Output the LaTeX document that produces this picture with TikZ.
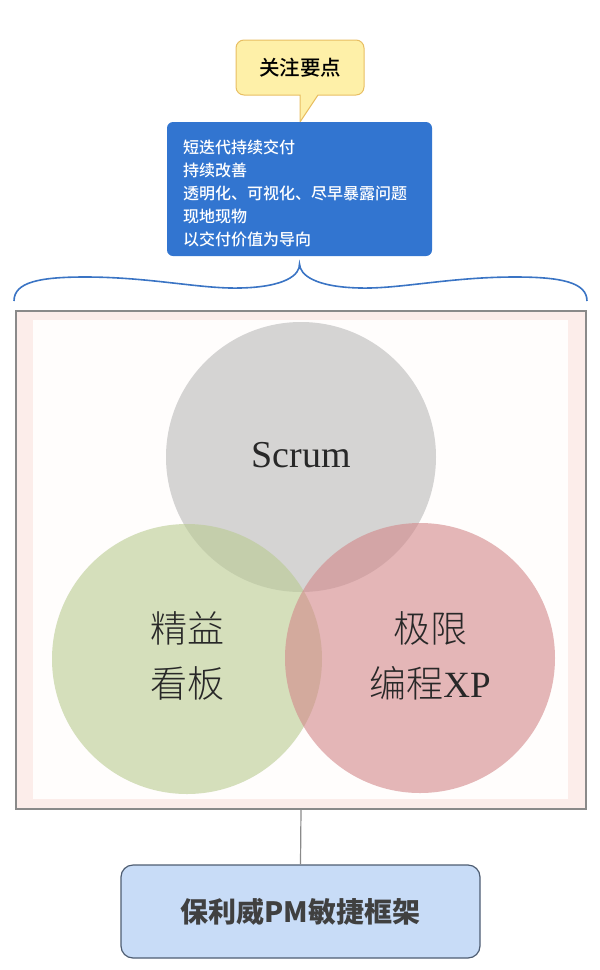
\documentclass[tikz,border=0pt]{standalone}
\usepackage{fontspec}
\newfontfamily\cjk{Noto Sans CJK SC}
\newfontfamily\cjkmed{Noto Sans CJK SC Medium}
\newfontfamily\cjklight{Noto Sans CJK SC Light}
\newfontfamily\serifl{Liberation Serif}
\definecolor{calloutfill}{RGB}{254,240,168}
\definecolor{calloutline}{RGB}{232,190,98}
\definecolor{bluebox}{RGB}{50,117,208}
\definecolor{bracecol}{RGB}{58,116,196}
\definecolor{framecol}{RGB}{138,138,138}
\definecolor{bandcol}{RGB}{252,237,234}
\definecolor{innercol}{RGB}{255,253,252}
\definecolor{graybase}{RGB}{185,185,185}
\definecolor{greenbase}{RGB}{185,203,145}
\definecolor{redbase}{RGB}{210,135,137}
\definecolor{pmfill}{RGB}{200,220,247}
\definecolor{pmline}{RGB}{78,93,114}
\definecolor{pmtext}{RGB}{64,64,64}
\definecolor{labeltext}{RGB}{40,40,40}
\tikzset{
  venn/.style={circle, minimum size=270pt, inner sep=0pt, fill opacity=0.6},
  vennlabel/.style={align=center, text=labeltext, inner sep=0pt, font=\cjklight\fontsize{37}{55}\selectfont},
}
\begin{document}
\begin{tikzpicture}[x=1pt,y=-1pt]
\useasboundingbox (0,0) rectangle (600,970);
% callout
\path[fill=calloutfill, draw=calloutline, line width=1pt]
  [rounded corners=8pt] (300,95) -- (236,95) -- (236,40) -- (364,40) -- (364,95)
  [sharp corners] -- (318,95) -- (300,122) -- cycle;
\node[text=black, inner sep=0pt, font=\cjkmed\fontsize{20.5}{24}\selectfont] (focus) at (300,68) {关注要点};
% blue box
\node[rectangle, rounded corners=6pt, fill=bluebox, minimum width=265pt, minimum height=134pt, inner sep=0pt] (points) at (299.5,189) {};
\node[anchor=west, align=left, text=white, inner sep=0pt, font=\cjkmed\fontsize{16}{23}\selectfont] (pointstext) at (183,193)
  {短迭代持续交付\\持续改善\\透明化、可视化、尽早暴露问题\\现地现物\\以交付价值为导向};
% frame
\node[rectangle, draw=framecol, line width=1.2pt, fill=bandcol, minimum width=570pt, minimum height=498pt, inner sep=0pt] (frame) at (301,560) {};
\node[rectangle, fill=innercol, minimum width=535pt, minimum height=479pt, inner sep=0pt] (inner) at (300.5,559.5) {};
% brace
\coordinate (tip) at (points.south |- 0,264);
\coordinate (bl) at (14,301);
\coordinate (br) at (587,301);
\draw[bracecol, line width=1.6pt]
  (bl) .. controls (14,282) and (40,277) .. (85,277)
  .. controls (150,277) and (200,289) .. (240,288)
  .. controls (285,287) and (300,275) .. (tip)
  .. controls (300,275) and (315,287) .. (360,288)
  .. controls (400,289) and (450,277) .. (515,277)
  .. controls (560,277) and (587,282) .. (br);
% circles
\node[venn, fill=graybase] (scrum) at (301,457) {};
\node[venn, fill=greenbase] (lean) at (187,659) {};
\node[venn, fill=redbase] (xp) at (420,658) {};
\node[vennlabel, font=\serifl\fontsize{38}{40}\selectfont] (scrumlabel) at (301,455) {Scrum};
\node[vennlabel] (leanlabel) at (187,656) {精益\\看板};
\node[vennlabel] (xplabel) at (430,656) {极限\\编程{\serifl XP}};
% bottom box
\node[rectangle, rounded corners=12pt, draw=pmline, line width=1.2pt, fill=pmfill,
      minimum width=359pt, minimum height=93pt, inner sep=0pt, text=pmtext,
      font=\cjk\bfseries\fontsize{28}{32}\selectfont] (pm) at (300.5,911.5)
  {保利威PM敏捷框架};
\draw[framecol, line width=1.2pt] (frame.south) -- (pm.north);
\end{tikzpicture}
\end{document}
